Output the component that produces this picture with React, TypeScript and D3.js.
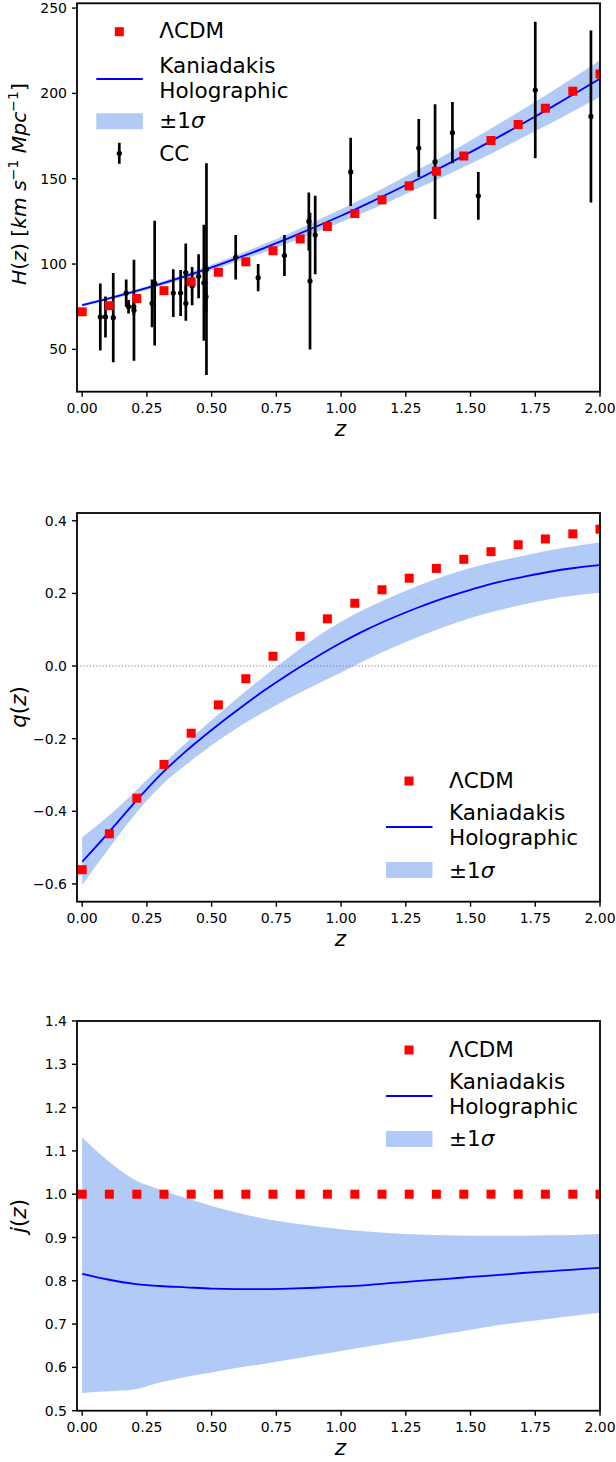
import React, { useEffect } from "react";
import * as d3 from "d3";

const W = 616;
const H = 1462;
const FONT = "'DejaVu Sans', sans-serif";

// LCDM reference values, 20 redshifts
const lcdmZ = [0, 0.105, 0.211, 0.316, 0.421, 0.526, 0.632, 0.737, 0.842, 0.947, 1.053, 1.158, 1.263, 1.368, 1.474, 1.579, 1.684, 1.789, 1.895, 2.0];
const lcdmH = [72.0, 75.6, 79.8, 84.4, 89.6, 95.2, 101.3, 107.8, 114.7, 122.0, 129.6, 137.6, 145.8, 154.4, 163.3, 172.4, 181.8, 191.3, 201.3, 211.4];
const lcdmQ = [-0.561, -0.462, -0.364, -0.271, -0.185, -0.107, -0.035, 0.027, 0.082, 0.13, 0.173, 0.21, 0.242, 0.269, 0.294, 0.315, 0.334, 0.35, 0.364, 0.377];
const lcdmJ = [1, 1, 1, 1, 1, 1, 1, 1, 1, 1, 1, 1, 1, 1, 1, 1, 1, 1, 1, 1];

// Kaniadakis holographic model on a z grid
const zGrid = [0, 0.1, 0.2, 0.3, 0.4, 0.5, 0.6, 0.7, 0.8, 0.9, 1.0, 1.1, 1.2, 1.3, 1.4, 1.5, 1.6, 1.7, 1.8, 1.9, 2.0];
const khdeH = [76.0, 79.7, 83.8, 88.2, 92.9, 98.0, 103.5, 109.2, 115.3, 121.7, 128.3, 135.3, 142.5, 150.0, 157.7, 165.6, 173.8, 182.2, 190.8, 199.7, 208.7];
const khdeHSigma = [0.8, 0.9, 1.0, 1.2, 1.4, 1.7, 2.0, 2.4, 2.8, 3.3, 3.8, 4.3, 4.9, 5.5, 6.1, 6.8, 7.5, 8.2, 9.0, 9.8, 10.8];
const khdeQ = [-0.539, -0.46, -0.378, -0.301, -0.235, -0.176, -0.121, -0.069, -0.021, 0.023, 0.064, 0.101, 0.133, 0.162, 0.188, 0.21, 0.23, 0.245, 0.259, 0.27, 0.278];
const khdeQUp = [-0.472, -0.414, -0.348, -0.279, -0.212, -0.149, -0.088, -0.03, 0.025, 0.077, 0.122, 0.16, 0.192, 0.222, 0.248, 0.27, 0.288, 0.303, 0.318, 0.33, 0.341];
const khdeQLo = [-0.603, -0.505, -0.412, -0.333, -0.272, -0.218, -0.17, -0.127, -0.088, -0.052, -0.018, 0.018, 0.051, 0.081, 0.108, 0.132, 0.152, 0.169, 0.183, 0.194, 0.202];
const khdeJ = [0.816, 0.803, 0.793, 0.788, 0.785, 0.782, 0.781, 0.781, 0.782, 0.784, 0.787, 0.79, 0.795, 0.8, 0.804, 0.809, 0.813, 0.818, 0.822, 0.826, 0.83];
const khdeJUp = [1.131, 1.077, 1.034, 1.011, 0.991, 0.973, 0.957, 0.944, 0.934, 0.926, 0.919, 0.914, 0.91, 0.907, 0.905, 0.904, 0.904, 0.904, 0.905, 0.906, 0.908];
const khdeJLo = [0.541, 0.545, 0.549, 0.565, 0.578, 0.588, 0.599, 0.608, 0.618, 0.628, 0.638, 0.648, 0.658, 0.667, 0.677, 0.687, 0.697, 0.705, 0.712, 0.719, 0.726];

// cosmic chronometer data
const ccZ = [0.07, 0.09, 0.12, 0.17, 0.1791, 0.1993, 0.2, 0.27, 0.28, 0.3519, 0.3802, 0.4, 0.4004, 0.4247, 0.4497, 0.47, 0.4783, 0.48, 0.5929, 0.6797, 0.7812, 0.8754, 0.88, 0.9, 1.037, 1.3, 1.363, 1.43, 1.53, 1.75, 1.965];
const ccH = [69, 69, 68.6, 83, 75, 75, 72.9, 77, 88.8, 83, 83, 95, 77, 87.1, 92.8, 89, 80.9, 97, 104, 92, 105, 125, 90, 117, 154, 168, 160, 177, 140, 202, 186.5];
const ccErr = [19.6, 12, 26.2, 8, 4, 5, 29.6, 14, 36.6, 14, 13.5, 17, 10.2, 11.2, 12.9, 34, 9, 62, 13, 8, 12, 17, 40, 23, 20, 17, 33.6, 18, 14, 40, 50.4];

const xTicks = [0, 0.25, 0.5, 0.75, 1.0, 1.25, 1.5, 1.75, 2.0];
const hTicks = [50, 100, 150, 200, 250];
const qTicks = [-0.6, -0.4, -0.2, 0.0, 0.2, 0.4];
const jTicks = [0.5, 0.6, 0.7, 0.8, 0.9, 1.0, 1.1, 1.2, 1.3, 1.4];

const LEFT = 77;
const RIGHT = 600;
const x = d3.scaleLinear().domain([-0.02, 2.0]).range([LEFT, RIGHT]);

const BAND = "cornflowerblue";
const LINE = "#0000ff";
const SQ = 9;

const it = (s: string) => <tspan fontStyle="italic">{s}</tspan>;

function Axes({ id, top, bottom, yDomain, yTicks, fmt, ylabel, ylabelY, ylabelSize = 21.5, xlabelOff = 44, children }: any) {
  const y = d3.scaleLinear().domain(yDomain).range([bottom, top]);
  return (
    <g fontFamily={FONT}>
      <defs>
        <clipPath id={id}>
          <rect x={LEFT} y={top} width={RIGHT - LEFT} height={bottom - top} />
        </clipPath>
      </defs>
      <g clipPath={`url(#${id})`}>{children(y)}</g>
      <rect x={LEFT} y={top} width={RIGHT - LEFT} height={bottom - top} fill="none" stroke="black" strokeWidth={1.8} />
      {xTicks.map((t) => (
        <g key={t}>
          <line x1={x(t)} x2={x(t)} y1={bottom} y2={bottom + 5} stroke="black" strokeWidth={1.4} />
          <text x={x(t)} y={bottom + 21.5} textAnchor="middle" fontSize={14}>{t.toFixed(2)}</text>
        </g>
      ))}
      {yTicks.map((t: number) => (
        <g key={t}>
          <line x1={LEFT - 5} x2={LEFT} y1={y(t)} y2={y(t)} stroke="black" strokeWidth={1.4} />
          <text x={67} y={y(t) + 5} textAnchor="end" fontSize={14}>{fmt(t)}</text>
        </g>
      ))}
      <text x={(LEFT + RIGHT) / 2 + 2} y={bottom + xlabelOff} textAnchor="middle" fontSize={21.5} fontStyle="italic">z</text>
      <text transform={`translate(26,${ylabelY}) rotate(-90)`} textAnchor="middle" fontSize={ylabelSize}>{ylabel}</text>
    </g>
  );
}

function Legend({ tx, rows, entries }: any) {
  const hx0 = tx - 63;
  const hx1 = tx - 16.5;
  const mx = tx - 40;
  return (
    <g fontFamily={FONT} fontSize={21.5}>
      {entries.map((e: any, i: number) => {
        const r = rows[i];
        if (e === "lcdm")
          return (
            <g key={i}>
              <rect x={mx - SQ / 2} y={r.h - SQ / 2} width={SQ} height={SQ} fill="#ff0000" />
              <text x={tx} y={r.b}>ΛCDM</text>
            </g>
          );
        if (e === "line")
          return (
            <g key={i}>
              <line x1={hx0} x2={hx1} y1={r.h} y2={r.h} stroke={LINE} strokeWidth={2.2} />
              <text x={tx} y={r.b}>Kaniadakis</text>
              <text x={tx} y={r.b + 25}>Holographic</text>
            </g>
          );
        if (e === "band")
          return (
            <g key={i}>
              <rect x={hx0} y={r.h - 8} width={hx1 - hx0} height={16} fill={BAND} fillOpacity={0.5} />
              <text x={tx} y={r.b}>±1{it("σ")}</text>
            </g>
          );
        return (
          <g key={i}>
            <line x1={mx} x2={mx} y1={r.h - 10.5} y2={r.h + 10.5} stroke="black" strokeWidth={2.7} />
            <circle cx={mx} cy={r.h} r={2.6} fill="black" />
            <text x={tx} y={r.b}>CC</text>
          </g>
        );
      })}
    </g>
  );
}

export default function App() {
  useEffect(() => {
    document.body.style.margin = "0";
  }, []);

  const fmt2 = (t: number) => (t < 0 ? "\u2212" + Math.abs(t).toFixed(1) : t.toFixed(1));

  return (
    <svg width={W} height={H} viewBox={`0 0 ${W} ${H}`} style={{ display: "block", background: "white" }}>
      <rect width={W} height={H} fill="white" />

      {/* H(z) */}
      <Axes
        id="cH"
        top={3.3}
        bottom={391.7}
        yDomain={[25.2, 252.8]}
        yTicks={hTicks}
        fmt={(t: number) => String(t)}
        ylabelY={184}
        ylabelSize={20.3}
        xlabelOff={44}
        ylabel={
          <>
            {it("H")}({it("z")}) [{it("km")} {it("s")}
            <tspan dy={-8} fontSize={14}>−1</tspan>
            <tspan dy={8}> </tspan>
            {it("Mpc")}
            <tspan dy={-8} fontSize={14}>−1</tspan>
            <tspan dy={8}>]</tspan>
          </>
        }
      >
        {(y: any) => {
          const area = d3.area<number>().x((_, i) => x(zGrid[i])).y0((_, i) => y(khdeH[i] - khdeHSigma[i])).y1((_, i) => y(khdeH[i] + khdeHSigma[i])).curve(d3.curveMonotoneX);
          const line = d3.line<number>().x((_, i) => x(zGrid[i])).y((d) => y(d)).curve(d3.curveMonotoneX);
          return (
            <>
              <path d={area(khdeH) || ""} fill={BAND} fillOpacity={0.5} />
              <path d={line(khdeH) || ""} fill="none" stroke={LINE} strokeWidth={1.8} />
              {ccZ.map((z, i) => (
                <line key={i} x1={x(z)} x2={x(z)} y1={y(ccH[i] - ccErr[i])} y2={y(ccH[i] + ccErr[i])} stroke="black" strokeWidth={2.7} />
              ))}
              {ccZ.map((z, i) => (
                <circle key={i} cx={x(z)} cy={y(ccH[i])} r={2.6} fill="black" />
              ))}
              {lcdmZ.map((z, i) => (
                <rect key={i} x={x(z) - SQ / 2} y={y(lcdmH[i]) - SQ / 2} width={SQ} height={SQ} fill="#ff0000" />
              ))}
            </>
          );
        }}
      </Axes>
      <Legend
        tx={159.3}
        entries={["lcdm", "line", "band", "cc"]}
        rows={[
          { b: 38.3, h: 31.7 },
          { b: 72.7, h: 79 },
          { b: 128.3, h: 121.3 },
          { b: 161, h: 153.3 },
        ]}
      />

      {/* q(z) */}
      <Axes
        id="cQ"
        top={513}
        bottom={901.7}
        yDomain={[-0.649, 0.4215]}
        yTicks={qTicks}
        fmt={fmt2}
        ylabelY={707}
        xlabelOff={44}
        ylabel={<>{it("q")}({it("z")})</>}
      >
        {(y: any) => {
          const area = d3.area<number>().x((_, i) => x(zGrid[i])).y0((_, i) => y(khdeQLo[i])).y1((_, i) => y(khdeQUp[i])).curve(d3.curveMonotoneX);
          const line = d3.line<number>().x((_, i) => x(zGrid[i])).y((d) => y(d)).curve(d3.curveMonotoneX);
          return (
            <>
              <path d={area(khdeQ) || ""} fill={BAND} fillOpacity={0.5} />
              <line x1={LEFT} x2={RIGHT} y1={y(0)} y2={y(0)} stroke="#808080" strokeWidth={1.1} strokeDasharray="1.2,2" />
              <path d={line(khdeQ) || ""} fill="none" stroke={LINE} strokeWidth={1.8} />
              {lcdmZ.map((z, i) => (
                <rect key={i} x={x(z) - SQ / 2} y={y(lcdmQ[i]) - SQ / 2} width={SQ} height={SQ} fill="#ff0000" />
              ))}
            </>
          );
        }}
      </Axes>
      <Legend
        tx={449}
        entries={["lcdm", "line", "band"]}
        rows={[
          { b: 787.7, h: 781 },
          { b: 820, h: 827 },
          { b: 877.7, h: 870 },
        ]}
      />

      {/* j(z) */}
      <Axes
        id="cJ"
        top={1021}
        bottom={1410.7}
        yDomain={[0.5, 1.4]}
        yTicks={jTicks}
        fmt={(t: number) => t.toFixed(1)}
        ylabelY={1216}
        xlabelOff={44}
        ylabel={<>{it("j")}({it("z")})</>}
      >
        {(y: any) => {
          const area = d3.area<number>().x((_, i) => x(zGrid[i])).y0((_, i) => y(khdeJLo[i])).y1((_, i) => y(khdeJUp[i])).curve(d3.curveMonotoneX);
          const line = d3.line<number>().x((_, i) => x(zGrid[i])).y((d) => y(d)).curve(d3.curveMonotoneX);
          return (
            <>
              <path d={area(khdeJ) || ""} fill={BAND} fillOpacity={0.5} />
              <path d={line(khdeJ) || ""} fill="none" stroke={LINE} strokeWidth={1.8} />
              {lcdmZ.map((z, i) => (
                <rect key={i} x={x(z) - SQ / 2} y={y(lcdmJ[i]) - SQ / 2} width={SQ} height={SQ} fill="#ff0000" />
              ))}
            </>
          );
        }}
      </Axes>
      <Legend
        tx={449}
        entries={["lcdm", "line", "band"]}
        rows={[
          { b: 1056.7, h: 1050 },
          { b: 1089.3, h: 1096 },
          { b: 1146, h: 1139 },
        ]}
      />
    </svg>
  );
}
